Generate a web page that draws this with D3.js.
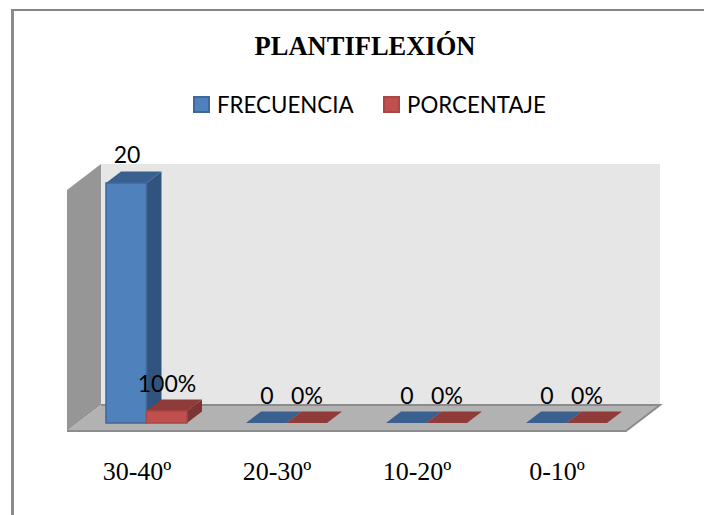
<!DOCTYPE html>
<html lang="en">
<head>
    <meta charset="UTF-8">
    <script src="https://cdnjs.cloudflare.com/ajax/libs/d3/7.8.5/d3.min.js"></script>
    <style>
        html, body { margin: 0; padding: 0; background: #fff; }
        svg { display: block; }
    </style>
</head>
<body>
<svg id="chart" width="704" height="515"></svg>
<script>
    const categories = ['30-40º', '20-30º', '10-20º', '0-10º'];
    const frecuencia = [20, 0, 0, 0];
    const porcentaje = [1, 0, 0, 0];
    const frecuenciaLabels = ['20', '0', '0', '0'];
    const porcentajeLabels = ['100%', '0%', '0%', '0%'];
    const seriesNames = ['FRECUENCIA', 'PORCENTAJE'];

    const svg = d3.select('#chart');
    const sans = 'Lato, "Open Sans", sans-serif';
    const serif = '"Liberation Serif", serif';

    // floor front edge and baseline of the fake 3d box
    const xScale = d3.scaleBand().domain(categories).range([67, 627]);
    const yScale = d3.scaleLinear().domain([0, 20]).range([423, 183]);
    const inner = d3.scaleBand().domain(seriesNames).range([0, 81]);
    const barOffset = 39;
    const depth = {x: 15, y: -11.5};

    const colors = {
        FRECUENCIA: {front: '#4f81bd', top: '#3a6090', side: '#31547f', stroke: '#3f6797'},
        PORCENTAJE: {front: '#c0504d', top: '#8f3b39', side: '#7e3432', stroke: '#a84744'}
    };

    const poly = pts => pts.map(p => p.join(',')).join(' ');

    // outer frame, left edge is a bit heavier than the top one
    svg.append('path')
        .attr('d', 'M12.5,515V10')
        .attr('fill', 'none')
        .attr('stroke', '#8c8c8c')
        .attr('stroke-width', 3);
    svg.append('path')
        .attr('d', 'M11,10H704')
        .attr('fill', 'none')
        .attr('stroke', '#868686')
        .attr('stroke-width', 2);

    // walls and floor
    svg.append('polygon')
        .attr('points', poly([[101, 164], [660, 164], [660, 405], [101, 405]]))
        .attr('fill', '#e6e6e6');
    svg.append('polygon')
        .attr('points', poly([[67, 190], [101, 164], [101, 405], [67, 431]]))
        .attr('fill', '#969696');
    svg.append('polygon')
        .attr('points', poly([[67, 431], [101, 405], [660, 405], [626, 431]]))
        .attr('fill', '#b2b2b2');
    svg.append('path')
        .attr('d', 'M101,405H660L626,431H67')
        .attr('fill', 'none')
        .attr('stroke', '#8c8c8c')
        .attr('stroke-width', 2);

    const series = [
        {name: 'FRECUENCIA', values: frecuencia},
        {name: 'PORCENTAJE', values: porcentaje}
    ];

    series.forEach(s => {
        const c = colors[s.name];
        const g = svg.append('g').attr('class', 'series');
        s.values.forEach((v, i) => {
            const x0 = xScale(categories[i]) + barOffset + inner(s.name);
            const x1 = x0 + inner.bandwidth();
            const y0 = yScale(0);
            const y1 = yScale(v);
            if (v > 0) {
                g.append('polygon')
                    .attr('points', poly([[x1, y0], [x1 + depth.x, y0 + depth.y], [x1 + depth.x, y1 + depth.y], [x1, y1]]))
                    .attr('fill', c.side);
            }
            g.append('polygon')
                .attr('points', poly([[x0, y1], [x0 + depth.x, y1 + depth.y], [x1 + depth.x, y1 + depth.y], [x1, y1]]))
                .attr('fill', c.top);
            if (v > 0) {
                g.append('rect')
                    .attr('x', x0).attr('y', y1)
                    .attr('width', x1 - x0).attr('height', y0 - y1)
                    .attr('fill', c.front)
                    .attr('stroke', c.stroke)
                    .attr('stroke-width', 1.5);
            }
        });
    });

    // data labels
    const labelStyle = sel => sel
        .attr('font-family', sans)
        .attr('font-size', 23)
        .attr('fill', '#000')
        .attr('text-anchor', 'middle');

    svg.selectAll('text.frec')
        .data(frecuenciaLabels).enter()
        .append('text')
        .attr('class', 'frec')
        .attr('x', (d, i) => xScale(categories[i]) + 60)
        .attr('y', (d, i) => yScale(frecuencia[i]) + (i === 0 ? -20 : -19))
        .text(d => d)
        .call(labelStyle);

    svg.selectAll('text.porc')
        .data(porcentajeLabels).enter()
        .append('text')
        .attr('class', 'porc')
        .attr('x', (d, i) => xScale(categories[i]) + 100)
        .attr('y', (d, i) => yScale(porcentaje[i]) + (i === 0 ? -19 : -19))
        .text(d => d)
        .call(labelStyle);

    // category axis, no line or ticks
    const xAxis = d3.axisBottom(xScale).tickSize(0).tickPadding(0);
    const axisG = svg.append('g').attr('transform', 'translate(0,461.5)').call(xAxis);
    axisG.select('.domain').remove();
    axisG.selectAll('text')
        .attr('font-family', serif)
        .attr('font-size', 26)
        .attr('fill', '#000');

    // title
    svg.append('text')
        .attr('x', 365).attr('y', 55)
        .attr('text-anchor', 'middle')
        .attr('font-family', serif)
        .attr('font-weight', 'bold')
        .attr('font-size', 26.5)
        .text('PLANTIFLEXIÓN');

    // legend
    const legendX = d3.scaleOrdinal().domain(seriesNames).range([194, 384]);
    const legend = svg.selectAll('g.legend')
        .data(seriesNames).enter()
        .append('g')
        .attr('class', 'legend')
        .attr('transform', d => `translate(${legendX(d)},97)`);
    legend.append('rect')
        .attr('width', 15).attr('height', 15)
        .attr('fill', d => colors[d].front)
        .attr('stroke', d => colors[d].stroke)
        .attr('stroke-width', 2);
    legend.append('text')
        .attr('x', 23).attr('y', 16)
        .attr('font-family', sans)
        .attr('font-size', 22.3)
        .text(d => d);
</script>
</body>
</html>
